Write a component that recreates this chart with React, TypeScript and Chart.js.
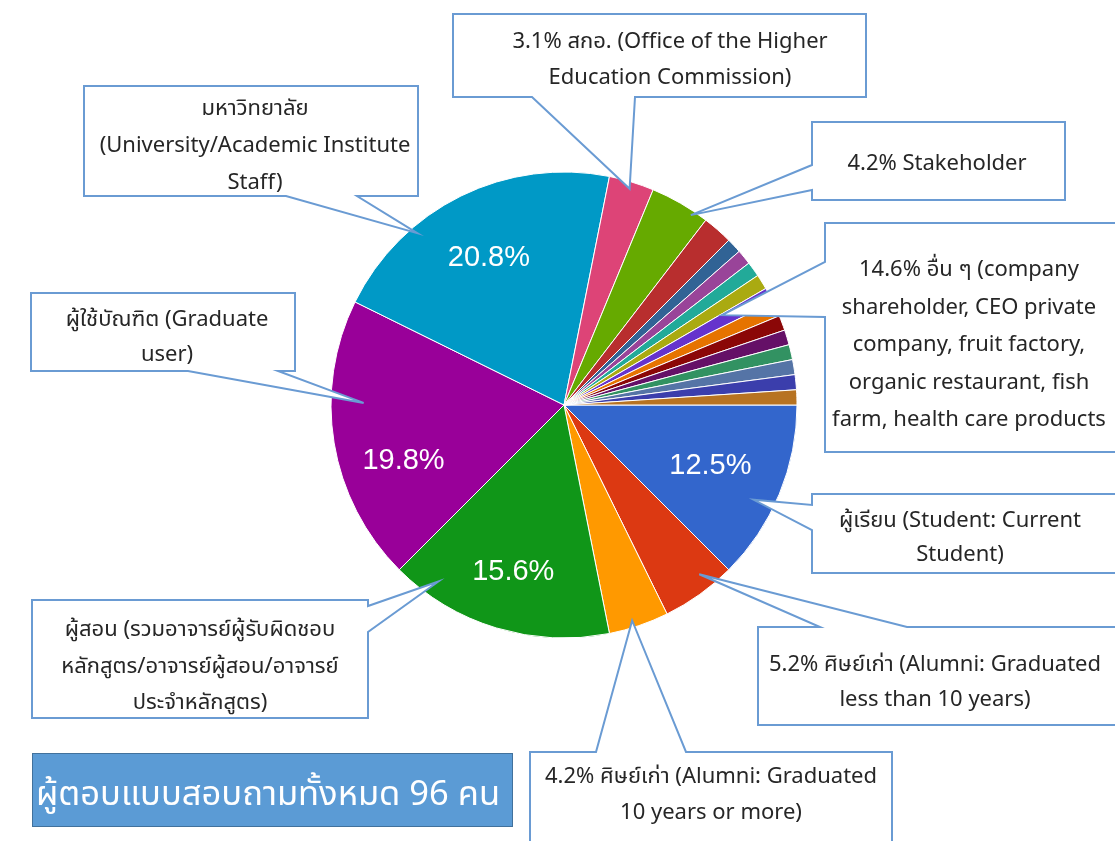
import React, { useEffect, useRef } from "react";
import { Chart, registerables } from "chart.js";

Chart.register(...registerables);

// ---------- DATA ----------
const categories = [
  "ผู้เรียน (Student: Current Student)",
  "ศิษย์เก่า (Alumni: Graduated less than 10 years)",
  "ศิษย์เก่า (Alumni: Graduated 10 years or more)",
  "ผู้สอน",
  "ผู้ใช้บัณฑิต (Graduate user)",
  "มหาวิทยาลัย (University/Academic Institute Staff)",
  "สกอ. (Office of the Higher Education Commission)",
  "Stakeholder",
  "อื่น ๆ 1",
  "อื่น ๆ 2",
  "อื่น ๆ 3",
  "อื่น ๆ 4",
  "อื่น ๆ 5",
  "อื่น ๆ 6",
  "อื่น ๆ 7",
  "อื่น ๆ 8",
  "อื่น ๆ 9",
  "อื่น ๆ 10",
  "อื่น ๆ 11",
  "อื่น ๆ 12",
  "อื่น ๆ 13",
];

const counts = [12, 5, 4, 15, 19, 20, 3, 4, 2, 1, 1, 1, 1, 1, 1, 1, 1, 1, 1, 1, 1];

const sliceColors = [
  "#3366cc", "#dc3912", "#ff9900", "#109618", "#990099", "#0099c6", "#dd4477",
  "#66aa00", "#b82e2e", "#316395", "#994499", "#22aa99", "#aaaa11", "#6633cc",
  "#e67300", "#8b0707", "#651067", "#329262", "#5574a6", "#3b3eac", "#b77322",
];

const calloutTexts = [
  ["3.1% สกอ. (Office of the Higher", "Education Commission)"],
  ["มหาวิทยาลัย", "(University/Academic Institute", "Staff)"],
  ["4.2% Stakeholder"],
  [
    "14.6% อื่น ๆ (company",
    "shareholder, CEO private",
    "company, fruit factory,",
    "organic restaurant, fish",
    "farm, health care products",
  ],
  ["ผู้เรียน (Student: Current", "Student)"],
  ["5.2% ศิษย์เก่า (Alumni: Graduated", "less than 10 years)"],
  ["4.2% ศิษย์เก่า (Alumni: Graduated", "10 years or more)"],
  ["ผู้สอน (รวมอาจารย์ผู้รับผิดชอบ", "หลักสูตร/อาจารย์ผู้สอน/อาจารย์", "ประจำหลักสูตร)"],
  ["ผู้ใช้บัณฑิต (Graduate", "user)"],
];

const titleText = "ผู้ตอบแบบสอบถามทั้งหมด 96 คน";

// ---------- LAYOUT (positions / styles) ----------
type Edge = "top" | "right" | "bottom" | "left";
interface CalloutLayout {
  box: [number, number, number, number];
  edge: Edge;
  base: [number, number];
  slice: number;
  frac: number;
  rf: number;
  tx: number;
  ty: number;
  lh: number;
}

const calloutLayout: CalloutLayout[] = [
  { box: [453, 14, 866, 97], edge: "bottom", base: [532, 635], slice: 6, frac: 0.5, rf: 0.97, tx: 670, ty: 40, lh: 36 },
  { box: [84, 86, 418, 196], edge: "bottom", base: [286, 357], slice: 5, frac: 0.31, rf: 0.97, tx: 255, ty: 107, lh: 37 },
  { box: [812, 122, 1065, 200], edge: "left", base: [165, 190], slice: 7, frac: 0.75, rf: 0.98, tx: 937, ty: 162, lh: 37 },
  { box: [825, 223, 1130, 452], edge: "left", base: [262, 317], slice: 13, frac: 0.1, rf: 0.78, tx: 969, ty: 268, lh: 37.5 },
  { box: [812, 494, 1120, 573], edge: "left", base: [505, 530], slice: 0, frac: 0.59, rf: 0.91, tx: 960, ty: 519, lh: 34 },
  { box: [758, 627, 1130, 725], edge: "top", base: [820, 907], slice: 1, frac: 0.34, rf: 0.93, tx: 935, ty: 663, lh: 35 },
  { box: [530, 752, 892, 860], edge: "top", base: [596, 686], slice: 2, frac: 0.58, rf: 0.97, tx: 711, ty: 775, lh: 36 },
  { box: [32, 600, 368, 718], edge: "right", base: [606, 632], slice: 3, frac: 0.83, rf: 0.93, tx: 200, ty: 628, lh: 36.5 },
  { box: [31, 293, 295, 371], edge: "bottom", base: [188, 278], slice: 4, frac: 0.64, rf: 0.86, tx: 167, ty: 318, lh: 35 },
];

// inner percentage labels: slice index, angle fraction, radius fraction
const innerLabelLayout = [
  { slice: 0, frac: 0.5, rf: 0.68 },
  { slice: 3, frac: 0.5, rf: 0.75 },
  { slice: 4, frac: 0.36, rf: 0.73 },
  { slice: 5, frac: 0.49, rf: 0.71 },
];

const TEXT_FONT = "'Noto Sans Thai', 'Noto Sans', 'Open Sans', sans-serif";
const TEXT_DY = 4;

const calloutPlugin = {
  id: "callouts",
  afterDatasetsDraw(chart: any) {
    const ctx: CanvasRenderingContext2D = chart.ctx;
    const meta = chart.getDatasetMeta(0);
    const total = counts.reduce((a, b) => a + b, 0);

    // inner labels
    ctx.save();
    ctx.fillStyle = "#ffffff";
    ctx.font = "29px 'Liberation Sans', Arial, sans-serif";
    ctx.textAlign = "center";
    ctx.textBaseline = "middle";
    for (const L of innerLabelLayout) {
      const arc: any = meta.data[L.slice];
      const a = arc.startAngle + L.frac * (arc.endAngle - arc.startAngle);
      const r = arc.outerRadius * L.rf;
      const pct = ((counts[L.slice] / total) * 100).toFixed(1) + "%";
      ctx.fillText(pct, arc.x + Math.cos(a) * r, arc.y + Math.sin(a) * r);
    }
    ctx.restore();

    // callouts
    ctx.save();
    calloutLayout.forEach((c, i) => {
      const arc: any = meta.data[c.slice];
      const a = arc.startAngle + c.frac * (arc.endAngle - arc.startAngle);
      const r = arc.outerRadius * c.rf;
      const px = arc.x + Math.cos(a) * r;
      const py = arc.y + Math.sin(a) * r;
      const [l, t, rr, b] = c.box;
      ctx.beginPath();
      ctx.moveTo(l, t);
      if (c.edge === "top") {
        ctx.lineTo(c.base[0], t);
        ctx.lineTo(px, py);
        ctx.lineTo(c.base[1], t);
      }
      ctx.lineTo(rr, t);
      if (c.edge === "right") {
        ctx.lineTo(rr, c.base[0]);
        ctx.lineTo(px, py);
        ctx.lineTo(rr, c.base[1]);
      }
      ctx.lineTo(rr, b);
      if (c.edge === "bottom") {
        ctx.lineTo(c.base[1], b);
        ctx.lineTo(px, py);
        ctx.lineTo(c.base[0], b);
      }
      ctx.lineTo(l, b);
      if (c.edge === "left") {
        ctx.lineTo(l, c.base[1]);
        ctx.lineTo(px, py);
        ctx.lineTo(l, c.base[0]);
      }
      ctx.closePath();
      ctx.fillStyle = "#ffffff";
      ctx.fill();
      ctx.lineWidth = 2;
      ctx.strokeStyle = "#6a9bd3";
      ctx.lineJoin = "miter";
      ctx.stroke();

      ctx.fillStyle = "#262626";
      ctx.font = "22px " + TEXT_FONT;
      ctx.textAlign = "center";
      ctx.textBaseline = "middle";
      calloutTexts[i].forEach((line, k) => {
        ctx.fillText(line, c.tx, c.ty + TEXT_DY + k * c.lh);
      });
    });

    // title box
    ctx.fillStyle = "#5b9bd5";
    ctx.fillRect(32, 753, 481, 74);
    ctx.lineWidth = 1;
    ctx.strokeStyle = "#41719c";
    ctx.strokeRect(32.5, 753.5, 480, 73);
    ctx.fillStyle = "#ffffff";
    ctx.font = "34.5px " + TEXT_FONT;
    ctx.textAlign = "center";
    ctx.textBaseline = "middle";
    ctx.fillText(titleText, 268, 798);
    ctx.restore();
  },
};

export default function App() {
  const canvasRef = useRef<HTMLCanvasElement | null>(null);

  useEffect(() => {
    if (!canvasRef.current) return;
    const chart = new Chart(canvasRef.current, {
      type: "pie",
      data: {
        labels: categories,
        datasets: [
          {
            data: counts,
            backgroundColor: sliceColors,
            borderColor: "#ffffff",
            borderWidth: 1,
            radius: 233,
          } as any,
        ],
      },
      options: {
        responsive: false,
        maintainAspectRatio: false,
        animation: false,
        devicePixelRatio: 1,
        rotation: 90,
        events: [],
        layout: { padding: { left: 331, right: 318, top: 172, bottom: 203 } },
        plugins: {
          legend: { display: false },
          tooltip: { enabled: false },
        },
      },
      plugins: [calloutPlugin],
    });
    return () => chart.destroy();
  }, []);

  return (
    <div style={{ position: "fixed", left: 0, top: 0, width: 1115, height: 841, background: "#ffffff" }}>
      <canvas ref={canvasRef} width={1115} height={841} style={{ display: "block" }} />
    </div>
  );
}
